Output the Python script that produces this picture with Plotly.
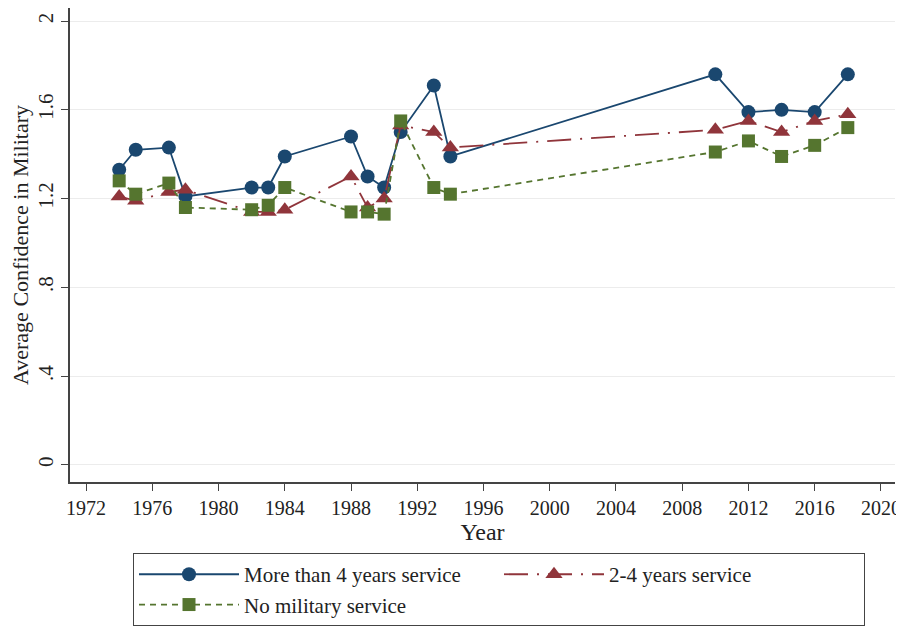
import plotly.graph_objects as go

# survey years
years = [1974, 1975, 1977, 1978, 1982, 1983, 1984, 1988, 1989, 1990,
         1991, 1993, 1994, 2010, 2012, 2014, 2016, 2018]

# average confidence by service group
more_than_4 = [1.33, 1.42, 1.43, 1.21, 1.25, 1.25, 1.39, 1.48, 1.30, 1.25,
               1.50, 1.71, 1.39, 1.76, 1.59, 1.60, 1.59, 1.76]
two_to_4 = [1.21, 1.19, 1.23, 1.24, 1.14, 1.14, 1.15, 1.30, 1.16, 1.20,
            1.53, 1.50, 1.43, 1.51, 1.55, 1.50, 1.55, 1.58]
no_service = [1.28, 1.22, 1.27, 1.16, 1.15, 1.17, 1.25, 1.14, 1.14, 1.13,
              1.55, 1.25, 1.22, 1.41, 1.46, 1.39, 1.44, 1.52]

x_ticks = list(range(1972, 2021, 4))
y_ticks = [0, 0.4, 0.8, 1.2, 1.6, 2]
y_ticktext = ['0', '.4', '.8', '1.2', '1.6', '2']

navy = '#1a476f'
maroon = '#90353b'
green = '#55752f'
font = 'Liberation Serif'

fig = go.Figure()
fig.add_trace(go.Scatter(
    x=years, y=more_than_4, name='More than 4 years service',
    mode='lines+markers',
    line=dict(color=navy, width=1.8),
    marker=dict(symbol='circle', size=14, color=navy),
))
fig.add_trace(go.Scatter(
    x=years, y=two_to_4, name='2-4 years service',
    mode='lines+markers',
    line=dict(color=maroon, width=1.8, dash='24px,9px,2px,9px'),
    marker=dict(symbol='triangle-up', size=15, color=maroon),
))
fig.add_trace(go.Scatter(
    x=years, y=no_service, name='No military service',
    mode='lines+markers',
    line=dict(color=green, width=1.8, dash='6px,5px'),
    marker=dict(symbol='square', size=13, color=green),
))

# page body has an 8px margin, so the figure is a bit smaller than the window
fig.update_layout(
    width=896, height=619,
    margin=dict(l=62, r=9, t=0, b=145),
    paper_bgcolor='white', plot_bgcolor='white',
    font=dict(family=font, size=20, color='#222'),
    showlegend=True,
    legend=dict(
        orientation='h', x=0.52, xanchor='center', y=-0.304, yanchor='bottom',
        entrywidth=250, itemwidth=100, bordercolor='#444', borderwidth=1,
        bgcolor='white', font=dict(size=21, color='#222'),
        traceorder='normal',
    ),
    xaxis=dict(
        range=[1971.03, 2020.85], tickvals=x_ticks,
        tickfont=dict(size=20),
        showline=True, linecolor='#444', linewidth=1.5,
        ticks='outside', ticklen=7, tickcolor='#444',
        showgrid=False, zeroline=False, automargin=False,
        title=dict(text='Year', standoff=2),
    ),
    yaxis=dict(
        range=[-0.077, 2.059], tickvals=y_ticks, ticktext=y_ticktext,
        tickangle=-90, tickfont=dict(size=21),
        showline=True, linecolor='#444', linewidth=1.5,
        ticks='outside', ticklen=7, tickcolor='#444',
        showgrid=True, gridcolor='#ececec', gridwidth=1, zeroline=False,
        automargin=False,
        title=dict(text='Average Confidence in Military', standoff=4,
                   font=dict(size=22)),
    ),
)

fig.write_html('out.html')
